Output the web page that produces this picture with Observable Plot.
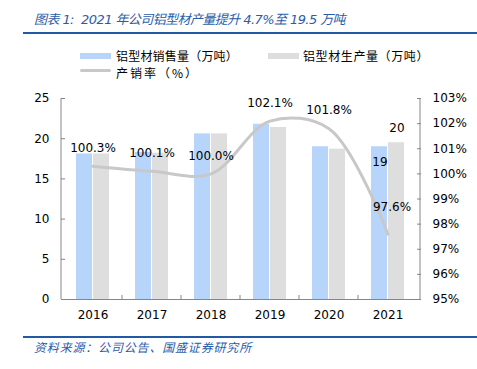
<!DOCTYPE html>
<html>
<head>
<meta charset="utf-8">
<script src="https://cdn.jsdelivr.net/npm/d3@7"></script>
<script src="https://cdn.jsdelivr.net/npm/@observablehq/plot@0.6"></script>
<style>
  html, body { margin: 0; padding: 0; background: #fff; }
  #page { position: relative; width: 477px; height: 369px; overflow: hidden; font-family: "DejaVu Sans", "Noto Sans CJK SC", sans-serif; }
  .title { position: absolute; left: 34px; top: 12px; font-size: 13px; font-style: italic; color: #2a5caa; font-family: "DejaVu Sans", "Noto Sans CJK SC", sans-serif; white-space: nowrap; line-height: 16px; }
  .rule { position: absolute; left: 23px; right: 0; height: 2px; background: #2159a6; }
  .legend { position: absolute; font-size: 12px; color: #000; font-family: "Noto Sans CJK SC", sans-serif; white-space: nowrap; line-height: 17px; }
  .sw { position: absolute; }
  .source { position: absolute; left: 34px; top: 339px; font-size: 12px; font-style: italic; color: #2a5caa; font-family: "Noto Sans CJK SC", sans-serif; white-space: nowrap; line-height: 16px; }
  #chart { position: absolute; left: 0; top: 80px; }
</style>
</head>
<body>
<div id="page">
  <div class="title" id="title">图表 1:&nbsp; 2021 年公司铝型材产量提升 4.7%至 19.5 万吨</div>
  <div class="rule" style="top:32px"></div>
  <div id="legend"></div>
  <div id="chart"></div>
  <div class="rule" style="top:336px"></div>
  <div class="source" id="source">资料来源：公司公告、国盛证券研究所</div>
</div>
<script>
const years = ["2016", "2017", "2018", "2019", "2020", "2021"];
const sales = [18.1, 18.3, 20.6, 21.8, 19.0, 19.0];        // 铝型材销售量（万吨）
const production = [18.1, 18.2, 20.6, 21.4, 18.7, 19.5];   // 铝型材生产量（万吨）
const rate = [100.3, 100.1, 100.0, 102.1, 101.8, 97.6];     // 产销率（%）
const leftTicks = [0, 5, 10, 15, 20, 25];
const rightTicks = [95, 96, 97, 98, 99, 100, 101, 102, 103];
const seriesNames = ["铝型材销售量（万吨）", "铝型材生产量（万吨）", "产销率（%）"];

const blue = "#b7d4fb", grey = "#dedede", lineGrey = "#c8c8c8", axisColor = "#868686";
const yMax = 25, rMin = 95, rMax = 103;
const toLeft = p => (p - rMin) * yMax / (rMax - rMin);
const fromLeft = v => v * (rMax - rMin) / yMax + rMin;

const data = years.map((y, i) => ({year: y, sales: sales[i], production: production[i], rate: rate[i]}));
const last = data.slice(-1);

// Legend
const legend = document.getElementById("legend");
legend.innerHTML = `
  <div class="sw" style="left:80px;top:53px;width:31px;height:6px;background:${blue}"></div>
  <div class="legend" id="lg0" style="left:116px;top:47px">${seriesNames[0]}</div>
  <div class="sw" style="left:268px;top:53px;width:31px;height:6px;background:${grey}"></div>
  <div class="legend" id="lg1" style="left:303px;top:47px">${seriesNames[1]}</div>
  <div class="sw" style="left:80px;top:69px;width:31px;height:3px;border-radius:2px;background:${lineGrey}"></div>
  <div class="legend" id="lg2" style="left:116px;top:64px">${seriesNames[2]}</div>`;

// stretch text runs to the widths they take in the reference
function fitWidth(el, target) {
  el.style.letterSpacing = "0px";
  const w = el.getBoundingClientRect().width;
  const n = [...el.textContent].length;
  el.style.letterSpacing = ((target - w) / n) + "px";
}
fitWidth(document.getElementById("title"), 311);
fitWidth(document.getElementById("lg0"), 122);
fitWidth(document.getElementById("lg1"), 126);
fitWidth(document.getElementById("lg2"), 83);
fitWidth(document.getElementById("source"), 218);

const plot = Plot.plot({
  width: 477,
  height: 250,
  marginTop: 18,
  marginBottom: 31,
  marginLeft: 61,
  marginRight: 57,
  style: {fontFamily: "DejaVu Sans", fontSize: "12px", color: "#000", background: "transparent", overflow: "visible"},
  x: {domain: years, paddingInner: 0.433, paddingOuter: 0.2165, axis: null},
  y: {domain: [0, yMax], axis: null},
  marks: [
    Plot.barY(data, {x: "year", y: "sales", fill: blue, insetRight: 17}),
    Plot.barY(data, {x: "year", y: "production", fill: grey, insetLeft: 17}),
    Plot.ruleY([0], {stroke: axisColor}),
    Plot.ruleX(years.slice(1), {x: d => d, y1: 0, y2: 0.5, dx: -30, stroke: axisColor}),
    Plot.axisX({tickSize: 0, tickPadding: 11, fontSize: 12, label: null}),
    Plot.axisY({anchor: "left", ticks: leftTicks, tickSize: -4, tickPadding: 16, stroke: axisColor, fill: "#000", label: null}),
    Plot.axisY({anchor: "right", ticks: rightTicks.map(toLeft), tickFormat: v => Math.round(fromLeft(v)) + "%", tickSize: -4, tickPadding: 16, stroke: axisColor, fill: "#000", label: null}),
    Plot.line(data, {x: "year", y: d => toLeft(d.rate), stroke: lineGrey, strokeWidth: 3, curve: "catmull-rom"}),
    Plot.text(data.slice(0, 5), {x: "year", y: d => toLeft(d.rate), text: d => d.rate.toFixed(1) + "%", dy: -18, fill: "#000"}),
    Plot.text(last, {x: "year", y: d => toLeft(d.rate), text: d => d.rate.toFixed(1) + "%", dy: -27, dx: 4, fill: "#000"}),
    Plot.text(last, {x: "year", y: "sales", text: d => Math.round(d.sales), dx: -8, dy: 15, fill: "#000"}),
    Plot.text(last, {x: "year", y: "production", text: d => Math.round(d.production), dx: 9, dy: -15, fill: "#000"})
  ]
});

// Left and right axis lines along the plot frame
const xr = plot.scale("x").range, yr = plot.scale("y").range;
const svg = d3.select(plot);
for (const xv of xr) {
  svg.append("line").attr("x1", xv).attr("x2", xv).attr("y1", yr[0]).attr("y2", yr[1])
    .attr("stroke", axisColor).attr("stroke-width", 1);
}
document.getElementById("chart").appendChild(plot);
</script>
</body>
</html>
